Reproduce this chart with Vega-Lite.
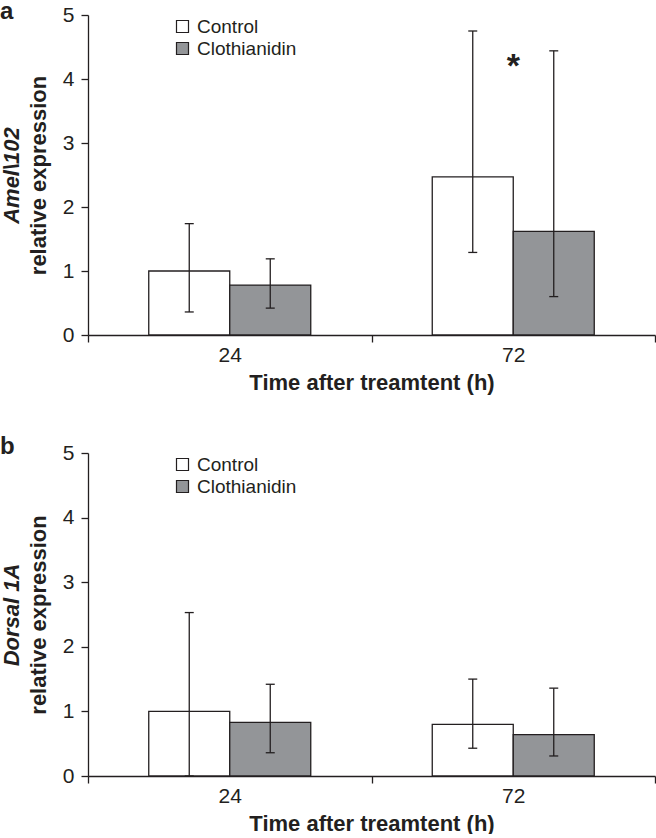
{
  "$schema": "https://vega.github.io/schema/vega-lite/v6.json",
  "padding": {"left": 0, "top": 0, "right": 0, "bottom": 0},
  "spacing": 42,
  "config": {
    "font": "Liberation Sans",
    "view": {"stroke": null},
    "axis": {"domainColor": "#231f20", "domainWidth": 1.3, "tickColor": "#231f20", "tickWidth": 1.3, "tickSize": 7, "labelColor": "#231f20", "titleColor": "#231f20", "labelFont": "Liberation Sans", "titleFont": "Liberation Sans", "labelFontSize": 21, "titleFontSize": 22, "titleFontWeight": "bold", "grid": false},
    "legend": {"symbolType": "square", "symbolSize": 144, "symbolStrokeColor": "#231f20", "symbolStrokeWidth": 1.2, "labelFontSize": 19, "labelColor": "#231f20", "labelFont": "Liberation Sans", "labelOffset": 5, "rowPadding": 2, "padding": 0},
    "title": {"font": "Liberation Sans", "fontSize": 24, "fontWeight": "bold", "color": "#231f20"}
  },
  "resolve": {"legend": {"fill": "independent"}},
  "vconcat": [
    {
      "width": 567, "height": 320,
      "title": {"text": "a", "anchor": "start", "frame": "bounds", "baseline": "alphabetic", "offset": -31, "dy": 8},
      "data": {"values": [
        {"time": "24", "group": "Control", "value": 1.0, "lower": 0.36, "upper": 1.74},
        {"time": "24", "group": "Clothianidin", "value": 0.78, "lower": 0.42, "upper": 1.19},
        {"time": "72", "group": "Control", "value": 2.47, "lower": 1.29, "upper": 4.75},
        {"time": "72", "group": "Clothianidin", "value": 1.62, "lower": 0.60, "upper": 4.44}
      ]},
      "encoding": {
        "x": {"field": "time", "type": "nominal", "sort": ["24", "72"], "scale": {"paddingInner": 0, "paddingOuter": 0}, "axis": {"title": "Time after treamtent (h)", "labelAngle": 0, "tickBand": "extent", "labelPadding": 2, "titlePadding": 7}}
      },
      "layer": [
        {"mark": {"type": "bar", "stroke": "#231f20", "strokeWidth": 1.3},
         "encoding": {
           "xOffset": {"field": "group", "type": "nominal", "sort": ["Control", "Clothianidin"], "scale": {"paddingInner": 0, "paddingOuter": 0.75}},
           "y": {"field": "value", "type": "quantitative", "scale": {"domain": [0, 5]}, "axis": {"title": "relative expression", "values": [0, 1, 2, 3, 4, 5], "labelPadding": 7, "titleX": -43, "titleBaseline": "alphabetic"}},
           "fill": {"field": "group", "type": "nominal", "sort": ["Control", "Clothianidin"], "scale": {"domain": ["Control", "Clothianidin"], "range": ["#ffffff", "#939598"]}, "legend": {"title": null, "orient": "none", "legendX": 85, "legendY": 2}}
         }},
        {"mark": {"type": "rule", "color": "#231f20", "strokeWidth": 1.3},
         "encoding": {
           "xOffset": {"field": "group", "type": "nominal", "sort": ["Control", "Clothianidin"]},
           "y": {"field": "lower", "type": "quantitative", "scale": {"domain": [0, 5]}, "axis": {"title": "Amel\\102", "orient": "left", "labels": false, "ticks": false, "domain": false, "titleFontStyle": "italic", "titleX": -70, "titleBaseline": "alphabetic"}},
           "y2": {"field": "upper"}
         }},
        {"mark": {"type": "tick", "color": "#231f20", "size": 9, "thickness": 1.3, "opacity": 1},
         "encoding": {"xOffset": {"field": "group", "type": "nominal", "sort": ["Control", "Clothianidin"]}, "y": {"field": "upper", "type": "quantitative", "axis": null}}},
        {"mark": {"type": "tick", "color": "#231f20", "size": 9, "thickness": 1.3, "opacity": 1},
         "encoding": {"xOffset": {"field": "group", "type": "nominal", "sort": ["Control", "Clothianidin"]}, "y": {"field": "lower", "type": "quantitative", "axis": null}}},
        {"data": {"values": [{"time": "72", "label": "*", "pos": 4.19}]},
         "mark": {"type": "text", "fontSize": 34, "fontWeight": "bold", "baseline": "middle", "color": "#231f20"},
         "encoding": {"y": {"field": "pos", "type": "quantitative", "axis": null}, "text": {"field": "label"}}}
      ],
      "resolve": {"axis": {"y": "independent"}}
    },
    {
      "width": 567, "height": 323,
      "title": {"text": "b", "anchor": "start", "frame": "bounds", "baseline": "alphabetic", "offset": -28, "dy": 8},
      "data": {"values": [
        {"time": "24", "group": "Control", "value": 1.0, "lower": 0, "upper": 2.53},
        {"time": "24", "group": "Clothianidin", "value": 0.83, "lower": 0.36, "upper": 1.42},
        {"time": "72", "group": "Control", "value": 0.80, "lower": 0.43, "upper": 1.50},
        {"time": "72", "group": "Clothianidin", "value": 0.64, "lower": 0.31, "upper": 1.36}
      ]},
      "encoding": {
        "x": {"field": "time", "type": "nominal", "sort": ["24", "72"], "scale": {"paddingInner": 0, "paddingOuter": 0}, "axis": {"title": "Time after treamtent (h)", "labelAngle": 0, "tickBand": "extent", "labelPadding": 2, "titlePadding": 7}}
      },
      "layer": [
        {"mark": {"type": "bar", "stroke": "#231f20", "strokeWidth": 1.3},
         "encoding": {
           "xOffset": {"field": "group", "type": "nominal", "sort": ["Control", "Clothianidin"], "scale": {"paddingInner": 0, "paddingOuter": 0.75}},
           "y": {"field": "value", "type": "quantitative", "scale": {"domain": [0, 5]}, "axis": {"title": "relative expression", "values": [0, 1, 2, 3, 4, 5], "labelPadding": 7, "titleX": -43, "titleBaseline": "alphabetic"}},
           "fill": {"field": "group", "type": "nominal", "sort": ["Control", "Clothianidin"], "scale": {"domain": ["Control", "Clothianidin"], "range": ["#ffffff", "#939598"]}, "legend": {"title": null, "orient": "none", "legendX": 85, "legendY": 2}}
         }},
        {"mark": {"type": "rule", "color": "#231f20", "strokeWidth": 1.3},
         "encoding": {
           "xOffset": {"field": "group", "type": "nominal", "sort": ["Control", "Clothianidin"]},
           "y": {"field": "lower", "type": "quantitative", "scale": {"domain": [0, 5]}, "axis": {"title": "Dorsal 1A", "orient": "left", "labels": false, "ticks": false, "domain": false, "titleFontStyle": "italic", "titleX": -70, "titleBaseline": "alphabetic"}},
           "y2": {"field": "upper"}
         }},
        {"mark": {"type": "tick", "color": "#231f20", "size": 9, "thickness": 1.3, "opacity": 1},
         "encoding": {"xOffset": {"field": "group", "type": "nominal", "sort": ["Control", "Clothianidin"]}, "y": {"field": "upper", "type": "quantitative", "axis": null}}},
        {"mark": {"type": "tick", "color": "#231f20", "size": 9, "thickness": 1.3, "opacity": 1},
         "encoding": {"xOffset": {"field": "group", "type": "nominal", "sort": ["Control", "Clothianidin"]}, "y": {"field": "lower", "type": "quantitative", "axis": null}}}
      ],
      "resolve": {"axis": {"y": "independent"}}
    }
  ]
}
